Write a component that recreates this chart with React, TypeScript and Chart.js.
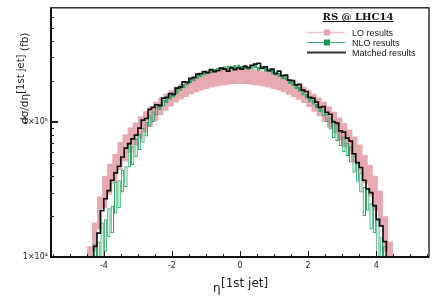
import React, { useEffect, useRef } from "react";
import { Chart, registerables } from "chart.js";

Chart.register(...registerables);

// ---------- data (cross sections in fb / 1000) ----------
// LO band, 0.15-wide bins
const loEdges = [-4.5, -4.35, -4.2, -4.05, -3.9, -3.75, -3.6, -3.45, -3.3, -3.15, -3.0, -2.85, -2.7, -2.55, -2.4, -2.25, -2.1, -1.95, -1.8, -1.65, -1.5, -1.35, -1.2, -1.05, -0.9, -0.75, -0.6, -0.45, -0.3, -0.15, 0, 0.15, 0.3, 0.45, 0.6, 0.75, 0.9, 1.05, 1.2, 1.35, 1.5, 1.65, 1.8, 1.95, 2.1, 2.25, 2.4, 2.55, 2.7, 2.85, 3.0, 3.15, 3.3, 3.45, 3.6, 3.75, 3.9, 4.05, 4.2, 4.35, 4.5];
const loHigh = [12, 18, 28, 40, 49, 58, 71, 81, 91, 99, 110, 120, 130, 141, 152, 162, 172, 182, 192, 200, 208, 216, 222, 228, 234, 238, 242, 245, 248, 249,
  249, 248, 246, 243, 239, 235, 229, 223, 216, 208, 200, 191, 182, 172, 162, 152, 141, 130, 119, 108, 98, 88, 78, 68, 57, 48, 40, 31, 20, 13];
const loLow = [8, 11, 16, 23, 29, 35, 44, 51, 59, 67, 75, 84, 92, 101, 112, 121, 130, 139, 147, 153, 160, 166, 171, 175, 180, 183, 186, 188, 190, 191,
  191, 190, 188, 186, 183, 180, 175, 171, 166, 159, 153, 146, 138, 129, 119, 110, 100, 91, 82, 73, 65, 57, 50, 42, 35, 28, 22, 17, 11, 8];

// NLO and matched, 0.1-wide bins
const etaEdges = [-4.4, -4.3, -4.2, -4.1, -4.0, -3.9, -3.8, -3.7, -3.6, -3.5, -3.4, -3.3, -3.2, -3.1, -3.0, -2.9, -2.8, -2.7, -2.6, -2.5, -2.4, -2.3, -2.2, -2.1, -2.0, -1.9, -1.8, -1.7, -1.6, -1.5, -1.4, -1.3, -1.2, -1.1, -1.0, -0.9, -0.8, -0.7, -0.6, -0.5, -0.4, -0.3, -0.2, -0.1, 0, 0.1, 0.2, 0.3, 0.4, 0.5, 0.6, 0.7, 0.8, 0.9, 1.0, 1.1, 1.2, 1.3, 1.4, 1.5, 1.6, 1.7, 1.8, 1.9, 2.0, 2.1, 2.2, 2.3, 2.4, 2.5, 2.6, 2.7, 2.8, 2.9, 3.0, 3.1, 3.2, 3.3, 3.4, 3.5, 3.6, 3.7, 3.8, 3.9, 4.0, 4.1, 4.2, 4.3, 4.4];
const nloLow = [5,
  8, 9, 10, 11, 14, 15, 21, 23, 30, 33, 46, 48, 55, 62, 70, 78, 92, 100, 112, 122, 130, 138, 146, 152, 162, 170, 178, 186, 193, 200, 209, 215, 221, 225, 229, 233, 237, 239, 243, 243, 245, 247, 249,
  243, 247, 241, 245, 249, 239, 243, 235, 233, 225, 221, 215, 207, 203, 191, 185, 175, 167, 157, 149, 140, 134, 126, 118, 110, 100, 88, 76, 72, 66, 60, 56, 50, 42, 36, 30, 20, 22, 16, 15, 10, 9, 7,
  5];
const nloHigh = [7,
  12.5, 13, 18, 19, 23, 24, 36, 37, 44, 47, 69, 66, 75, 82, 90, 100, 112, 120, 130, 136, 146, 152, 160, 166, 176, 184, 192, 200, 208, 214, 224, 230, 236, 240, 244, 248, 252, 254, 258, 260, 260, 264, 266,
  260, 264, 258, 262, 266, 256, 260, 252, 250, 242, 236, 230, 222, 218, 206, 200, 190, 182, 172, 162, 152, 146, 136, 130, 124, 116, 108, 104, 96, 86, 78, 70, 66, 56, 50, 42, 33, 32, 25, 24, 19, 14, 12,
  7];
const matched = [7, 12, 15, 22, 27, 31, 37, 42, 47, 55, 64, 69, 75, 80, 90, 103, 106, 124, 128, 134, 132, 150, 152, 162, 160, 178, 182, 198, 196, 210, 214, 226, 228, 236, 232, 244, 236, 240, 250, 246, 238, 252, 244, 250,
  246, 258, 252, 262, 268, 272, 250, 256, 240, 246, 228, 238, 220, 222, 204, 202, 188, 190, 172, 168, 152, 150, 140, 128, 130, 118, 114, 100, 98, 86, 84, 76, 72, 58, 50, 46, 37, 32, 30, 24, 19, 17, 13, 8];

const xMajorTicks = [-4, -2, 0, 2, 4];
const xMinorTicks = [-5.5, -5, -4.5, -3.5, -3, -2.5, -1.5, -1, -0.5, 0.5, 1, 1.5, 2.5, 3, 3.5, 4.5, 5, 5.5];
const yTickValues = [1e4, 1e5];
const yTickLabels = ["1×10⁴", "1×10⁵"];
const yMinorTicks = [2e4, 3e4, 4e4, 5e4, 6e4, 7e4, 8e4, 9e4, 2e5, 3e5, 4e5, 5e5, 6e5];

const UNIT = 1000;
const PINK = "rgb(232,170,178)";
const GREEN = "rgb(36,166,98)";

function stepPoints(edges: number[], vals: number[]) {
  const pts = vals.map((v, i) => ({ x: edges[i], y: v * UNIT }));
  pts.push({ x: edges[vals.length], y: vals[vals.length - 1] * UNIT });
  return pts;
}

const decor = {
  id: "decor",
  afterDraw(chart: any) {
    const { ctx, chartArea: a } = chart;
    const xs = chart.scales.x;
    const ys = chart.scales.y;
    ctx.save();
    // ticks (inward)
    ctx.strokeStyle = "#222";
    ctx.lineWidth = 1;
    ctx.beginPath();
    for (const t of xMajorTicks) {
      const p = Math.round(xs.getPixelForValue(t)) + 0.5;
      ctx.moveTo(p, a.bottom);
      ctx.lineTo(p, a.bottom - 6);
    }
    for (const t of xMinorTicks) {
      const p = Math.round(xs.getPixelForValue(t)) + 0.5;
      ctx.moveTo(p, a.bottom);
      ctx.lineTo(p, a.bottom - 3);
    }
    for (const t of yMinorTicks) {
      const p = Math.round(ys.getPixelForValue(t)) + 0.5;
      ctx.moveTo(a.left, p);
      ctx.lineTo(a.left + 3, p);
    }
    ctx.stroke();
    ctx.lineWidth = 2;
    ctx.beginPath();
    const p5 = Math.round(ys.getPixelForValue(1e5));
    ctx.moveTo(a.left, p5);
    ctx.lineTo(a.left + 7, p5);
    ctx.stroke();

    // frame
    ctx.strokeStyle = "#111";
    ctx.lineWidth = 1.3;
    ctx.strokeRect(a.left, a.top, a.right - a.left, a.bottom - a.top);
    ctx.lineWidth = 2;
    ctx.beginPath();
    ctx.moveTo(a.left, a.top);
    ctx.lineTo(a.left, a.bottom);
    ctx.lineTo(a.right, a.bottom);
    ctx.stroke();

    // x title
    ctx.fillStyle = "#222";
    ctx.textAlign = "left";
    ctx.textBaseline = "alphabetic";
    ctx.font = "12px 'DejaVu Sans'";
    ctx.fillText("η", 213, 292);
    ctx.fillText("[1st jet]", 221, 287);

    // y title
    ctx.save();
    ctx.translate(28, 124);
    ctx.rotate(-Math.PI / 2);
    ctx.font = "10.5px 'DejaVu Sans'";
    ctx.fillText("dσ/dη", 0, 0);
    const w1 = ctx.measureText("dσ/dη").width;
    ctx.font = "10px 'DejaVu Sans'";
    ctx.fillText("[1st jet]", w1, -4);
    const w2 = ctx.measureText("[1st jet]").width;
    ctx.font = "10.5px 'DejaVu Sans'";
    ctx.fillText(" (fb)", w1 + w2, 0);
    ctx.restore();

    // legend
    ctx.font = "bold 10px 'DejaVu Serif'";
    ctx.textAlign = "center";
    ctx.fillStyle = "#111";
    ctx.fillText("RS @ LHC14", 358, 19.5);
    const tw = ctx.measureText("RS @ LHC14").width;
    ctx.strokeStyle = "#111";
    ctx.lineWidth = 1;
    ctx.beginPath();
    ctx.moveTo(358 - tw / 2, 21.5);
    ctx.lineTo(358 + tw / 2, 21.5);
    ctx.stroke();

    ctx.textAlign = "left";
    ctx.font = "9px 'Liberation Sans'";
    // LO
    ctx.strokeStyle = "rgb(243,200,205)";
    ctx.lineWidth = 1.5;
    ctx.beginPath();
    ctx.moveTo(307, 32.5);
    ctx.lineTo(345, 32.5);
    ctx.stroke();
    ctx.fillStyle = "rgb(230,165,175)";
    ctx.fillRect(324, 29.5, 6, 6);
    // NLO
    ctx.strokeStyle = "rgb(60,180,115)";
    ctx.lineWidth = 1;
    ctx.beginPath();
    ctx.moveTo(307, 42.5);
    ctx.lineTo(345, 42.5);
    ctx.stroke();
    ctx.fillStyle = "rgb(25,150,80)";
    ctx.fillRect(324, 39.5, 6, 6);
    // Matched
    ctx.strokeStyle = "#333";
    ctx.lineWidth = 2;
    ctx.beginPath();
    ctx.moveTo(307, 52.5);
    ctx.lineTo(346, 52.5);
    ctx.stroke();

    ctx.fillStyle = "#222";
    ctx.fillText("LO results", 352, 35.5);
    ctx.fillText("NLO results", 352, 45.5);
    ctx.fillText("Matched results", 352, 55.5);
    ctx.restore();
  },
};

export default function App() {
  const ref = useRef<HTMLCanvasElement | null>(null);

  useEffect(() => {
    if (!ref.current) return;
    const nloBars = nloLow.map((lo, i) => ({
      x: (etaEdges[i] + etaEdges[i + 1]) / 2,
      y: [lo * UNIT, nloHigh[i] * UNIT],
    }));
    const chart = new Chart(ref.current, {
      type: "line",
      data: {
        datasets: [
          {
            label: "Matched results",
            data: stepPoints(etaEdges, matched),
            stepped: "before",
            borderColor: "#111",
            borderWidth: 1.7,
            pointRadius: 0,
            fill: false,
            order: 0,
          } as any,
          {
            type: "bar",
            label: "NLO results",
            data: nloBars,
            borderColor: GREEN,
            backgroundColor: (c: any) => {
              const i = c.dataIndex;
              if (i === undefined) return "rgba(0,0,0,0)";
              return nloHigh[i] / nloLow[i] < 1.12 ? GREEN : "rgba(0,0,0,0)";
            },
            borderWidth: 1,
            borderSkipped: false,
            barPercentage: 1,
            categoryPercentage: 1,
            inflateAmount: 0,
            clip: 0,
            order: 1,
          } as any,
          {
            label: "LO high",
            data: stepPoints(loEdges, loHigh),
            stepped: "before",
            borderColor: "rgba(0,0,0,0)",
            borderWidth: 0,
            backgroundColor: PINK,
            pointRadius: 0,
            fill: "+1",
            order: 2,
          } as any,
          {
            label: "LO low",
            data: stepPoints(loEdges, loLow),
            stepped: "before",
            borderColor: "rgba(0,0,0,0)",
            borderWidth: 0,
            pointRadius: 0,
            fill: false,
            order: 3,
          } as any,
        ],
      },
      options: {
        responsive: false,
        animation: false,
        events: [],
        layout: { padding: { top: 6, right: 7, left: 0, bottom: 0 } },
        plugins: { legend: { display: false }, tooltip: { enabled: false } },
        scales: {
          x: {
            type: "linear",
            min: -5.55,
            max: 5.55,
            offset: false,
            grid: { display: false, drawTicks: false },
            border: { display: false },
            afterBuildTicks: (s: any) => {
              s.ticks = xMajorTicks.map((v) => ({ value: v }));
            },
            afterFit: (s: any) => {
              s.height = 51;
            },
            ticks: {
              padding: 4,
              maxRotation: 0,
              autoSkip: false,
              color: "#222",
              font: { size: 8, family: "'DejaVu Sans'" },
              callback: (v: any) => String(v),
            },
          },
          y: {
            type: "logarithmic",
            min: 1e4,
            max: 7e5,
            grid: { display: false, drawTicks: false },
            border: { display: false },
            afterBuildTicks: (s: any) => {
              s.ticks = yTickValues.map((v) => ({ value: v }));
            },
            afterFit: (s: any) => {
              s.width = 51;
            },
            ticks: {
              padding: 3,
              autoSkip: false,
              color: "#222",
              font: { size: 8, family: "'DejaVu Sans'" },
              callback: (_v: any, i: number) => yTickLabels[i],
            },
          },
        },
      } as any,
      plugins: [decor],
    });
    return () => chart.destroy();
  }, []);

  return (
    <div style={{ position: "fixed", left: 0, top: 0, width: 436, height: 308, background: "#fff" }}>
      <canvas ref={ref} width={436} height={308} style={{ display: "block" }} />
    </div>
  );
}
